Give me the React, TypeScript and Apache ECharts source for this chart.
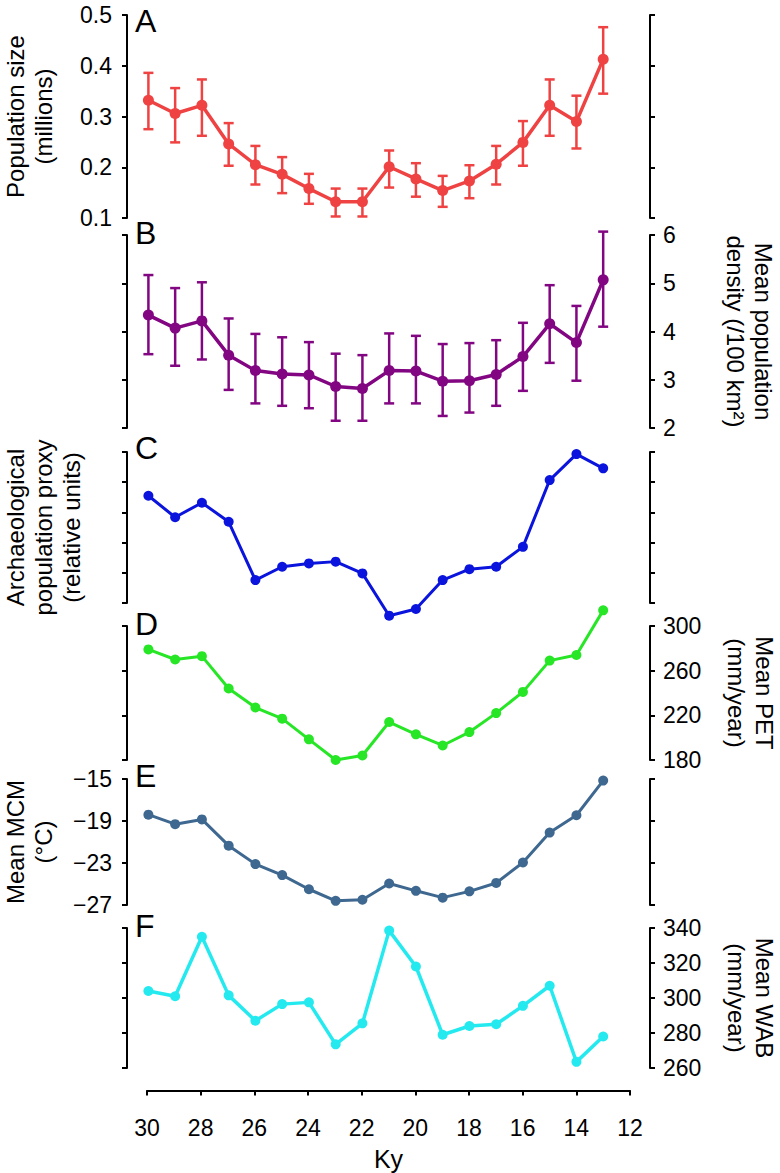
import React, { useEffect, useRef } from 'react';
import * as echarts from 'echarts';

// ---- data (Ky before present, 30 -> 13) ----
const KY = [30, 29, 28, 27, 26, 25, 24, 23, 22, 21, 20, 19, 18, 17, 16, 15, 14, 13];
const X_TICKS = [12, 14, 16, 18, 20, 22, 24, 26, 28, 30];

const POP_SIZE = [0.332, 0.306, 0.322, 0.246, 0.205, 0.186, 0.158, 0.132, 0.132, 0.201, 0.177, 0.154, 0.173, 0.206, 0.249, 0.322, 0.29, 0.413];
const POP_SIZE_LOW = [0.275, 0.249, 0.262, 0.203, 0.166, 0.149, 0.128, 0.103, 0.103, 0.16, 0.142, 0.122, 0.139, 0.166, 0.203, 0.262, 0.237, 0.345];
const POP_SIZE_HIGH = [0.386, 0.356, 0.373, 0.287, 0.242, 0.22, 0.187, 0.158, 0.158, 0.233, 0.208, 0.183, 0.204, 0.242, 0.291, 0.373, 0.341, 0.476];

const DENSITY = [4.34, 4.07, 4.22, 3.51, 3.19, 3.12, 3.1, 2.86, 2.82, 3.19, 3.18, 2.97, 2.98, 3.11, 3.48, 4.16, 3.77, 5.07];
const DENSITY_LOW = [3.53, 3.29, 3.42, 2.79, 2.51, 2.46, 2.41, 2.15, 2.15, 2.51, 2.51, 2.25, 2.32, 2.46, 2.77, 3.35, 2.98, 4.1];
const DENSITY_HIGH = [5.17, 4.9, 5.02, 4.27, 3.95, 3.88, 3.78, 3.54, 3.51, 3.96, 3.91, 3.74, 3.76, 3.82, 4.18, 4.96, 4.53, 6.07];

const PROXY = [3.55, 2.84, 3.32, 2.69, 0.76, 1.2, 1.31, 1.37, 0.98, -0.42, -0.2, 0.76, 1.12, 1.2, 1.86, 4.07, 4.93, 4.46];
const PET = [279, 270, 273, 244, 227, 217, 198.5, 180, 184, 214, 203, 193, 205, 222, 241, 269, 274, 314];
const MCM = [-18.4, -19.3, -18.85, -21.35, -23.1, -24.15, -25.5, -26.6, -26.5, -24.95, -25.65, -26.3, -25.7, -24.9, -22.95, -20.1, -18.45, -15.15];
const WAB = [304, 301, 335, 301.5, 287, 296.5, 297.5, 273.5, 285.5, 338.5, 318, 279, 284, 285, 295.5, 307, 263.5, 278];

const TICKS_A = [0.1, 0.2, 0.3, 0.4, 0.5];
const TICKS_B = [2, 3, 4, 5, 6];
const TICKS_C = [0, 1, 2, 3, 4, 5];
const TICKS_D = [180, 220, 260, 300];
const TICKS_E = [-27, -23, -19, -15];
const TICKS_F = [260, 280, 300, 320, 340];

const LETTERS = ['A', 'B', 'C', 'D', 'E', 'F'];

// ---- layout / style ----
const FONT = "'Liberation Sans', Arial, sans-serif";
const GRID_LEFT = 127;
const GRID_RIGHT = 130;
const X_MIN = 11.25;
const X_MAX = 30.8;

const PANELS = [
  { top: 15, height: 203, ticks: TICKS_A, values: POP_SIZE, low: POP_SIZE_LOW, high: POP_SIZE_HIGH, color: '#EF4242', labelSide: 'left', fmt: (v: number) => v.toFixed(1), lw: 3.5, sym: 11, letterY: 21 },
  { top: 235, height: 193, ticks: TICKS_B, values: DENSITY, low: DENSITY_LOW, high: DENSITY_HIGH, color: '#820682', labelSide: 'right', fmt: (v: number) => String(v), lw: 3.5, sym: 11, letterY: 233 },
  { top: 452, height: 151, ticks: TICKS_C, values: PROXY, color: '#0A14DC', labelSide: 'none', fmt: (v: number) => String(v), lw: 3, sym: 10, letterY: 448 },
  { top: 626, height: 134, ticks: TICKS_D, values: PET, color: '#26E626', labelSide: 'right', fmt: (v: number) => String(v), lw: 3, sym: 10, letterY: 624 },
  { top: 779, height: 126, ticks: TICKS_E, values: MCM, color: '#3E6890', labelSide: 'left', fmt: (v: number) => String(v).replace('-', '\u2212'), lw: 3, sym: 10, letterY: 776 },
  { top: 928, height: 140, ticks: TICKS_F, values: WAB, color: '#24EAF0', labelSide: 'right', fmt: (v: number) => String(v), lw: 3.5, sym: 10, letterY: 926 },
];

const TITLES = [
  { panel: 0, side: 'left', text: 'Population size\n(millions)', x: 29 },
  { panel: 1, side: 'right', text: 'Mean population\ndensity (/100 km\u00B2)', x: 749 },
  { panel: 2, side: 'left', text: 'Archaeological\npopulation proxy\n(relative units)', x: 43 },
  { panel: 3, side: 'right', text: 'Mean PET\n(mm/year)', x: 750 },
  { panel: 4, side: 'left', text: 'Mean MCM\n(\u00B0C)', x: 29 },
  { panel: 5, side: 'right', text: 'Mean WAB\n(mm/year)', x: 750 },
];

export default function App() {
  const ref = useRef<HTMLDivElement>(null);

  useEffect(() => {
    if (!ref.current) return;
    const chart = echarts.init(ref.current, null, { renderer: 'svg' });

    const axisLine = { show: true, lineStyle: { color: '#000', width: 2 } };
    const axisTick = { show: true, inside: false, length: 5, lineStyle: { color: '#000', width: 2 } };

    const grids: any[] = [];
    const xAxes: any[] = [];
    const yAxes: any[] = [];
    const series: any[] = [];

    PANELS.forEach((p, g) => {
      grids.push({ left: GRID_LEFT, right: GRID_RIGHT, top: p.top, height: p.height });
      xAxes.push({ gridIndex: g, type: 'value', min: X_MIN, max: X_MAX, inverse: true, show: false });
      const min = p.ticks[0];
      const max = p.ticks[p.ticks.length - 1];
      const interval = p.ticks[1] - p.ticks[0];
      ['left', 'right'].forEach((side) => {
        yAxes.push({
          gridIndex: g,
          type: 'value',
          position: side,
          min,
          max,
          interval,
          axisLine,
          axisTick,
          splitLine: { show: false },
          axisLabel: {
            show: p.labelSide === side,
            color: '#000',
            fontFamily: FONT,
            fontSize: 23,
            margin: side === 'left' ? 15 : 13,
            formatter: p.fmt,
          },
        });
      });
      const yIdx = g * 2;
      if (p.low && p.high) {
        const low = p.low;
        const high = p.high;
        const color = p.color;
        series.push({
          type: 'custom',
          xAxisIndex: g,
          yAxisIndex: yIdx,
          clip: false,
          silent: true,
          encode: { x: 0, y: [1, 2] },
          data: KY.map((k, i) => [k, low[i], high[i]]),
          renderItem: (params: any, api: any) => {
            const x = api.value(0);
            const lo = api.coord([x, api.value(1)]);
            const hi = api.coord([x, api.value(2)]);
            const hw = 5;
            const st = { stroke: color, lineWidth: 2.5 };
            return {
              type: 'group',
              children: [
                { type: 'line', shape: { x1: lo[0], y1: lo[1], x2: hi[0], y2: hi[1] }, style: st },
                { type: 'line', shape: { x1: lo[0] - hw, y1: lo[1], x2: lo[0] + hw, y2: lo[1] }, style: st },
                { type: 'line', shape: { x1: hi[0] - hw, y1: hi[1], x2: hi[0] + hw, y2: hi[1] }, style: st },
              ],
            };
          },
        });
      }
      series.push({
        type: 'line',
        xAxisIndex: g,
        yAxisIndex: yIdx,
        clip: false,
        data: KY.map((k, i) => [k, p.values[i]]),
        symbol: 'circle',
        symbolSize: p.sym,
        showSymbol: true,
        lineStyle: { color: p.color, width: p.lw },
        itemStyle: { color: p.color },
        z: 3,
      });
    });

    // bottom Ky axis
    grids.push({ left: 147, width: 483, top: 1000, height: 90.5 });
    xAxes.push({
      gridIndex: 6,
      type: 'value',
      min: X_TICKS[0],
      max: X_TICKS[X_TICKS.length - 1],
      interval: X_TICKS[1] - X_TICKS[0],
      inverse: true,
      axisLine,
      axisTick,
      splitLine: { show: false },
      axisLabel: { color: '#000', fontFamily: FONT, fontSize: 23, margin: 26 },
      name: 'Ky',
      nameLocation: 'middle',
      nameGap: 56,
      nameTextStyle: { color: '#000', fontFamily: FONT, fontSize: 25 },
    });
    yAxes.push({ gridIndex: 6, type: 'value', show: false, min: 0, max: 1 });

    const graphic: any[] = [];
    PANELS.forEach((p, g) => {
      graphic.push({
        type: 'text',
        x: 135,
        y: p.letterY,
        style: { text: LETTERS[g], fontFamily: FONT, fontSize: 32, fill: '#000', textAlign: 'left', textVerticalAlign: 'middle' },
      });
    });
    TITLES.forEach((t) => {
      const p = PANELS[t.panel];
      graphic.push({
        type: 'text',
        x: t.x,
        y: p.top + p.height / 2,
        rotation: t.side === 'left' ? Math.PI / 2 : -Math.PI / 2,
        style: {
          text: t.text,
          fontFamily: FONT,
          fontSize: 24,
          lineHeight: 28,
          fill: '#000',
          textAlign: 'center',
          textVerticalAlign: 'middle',
        },
      });
    });

    chart.setOption({
      animation: false,
      backgroundColor: '#fff',
      grid: grids,
      xAxis: xAxes,
      yAxis: yAxes,
      series,
      graphic,
    });

    return () => chart.dispose();
  }, []);

  return <div ref={ref} style={{ position: 'absolute', left: 0, top: 0, width: 780, height: 1173 }} />;
}
